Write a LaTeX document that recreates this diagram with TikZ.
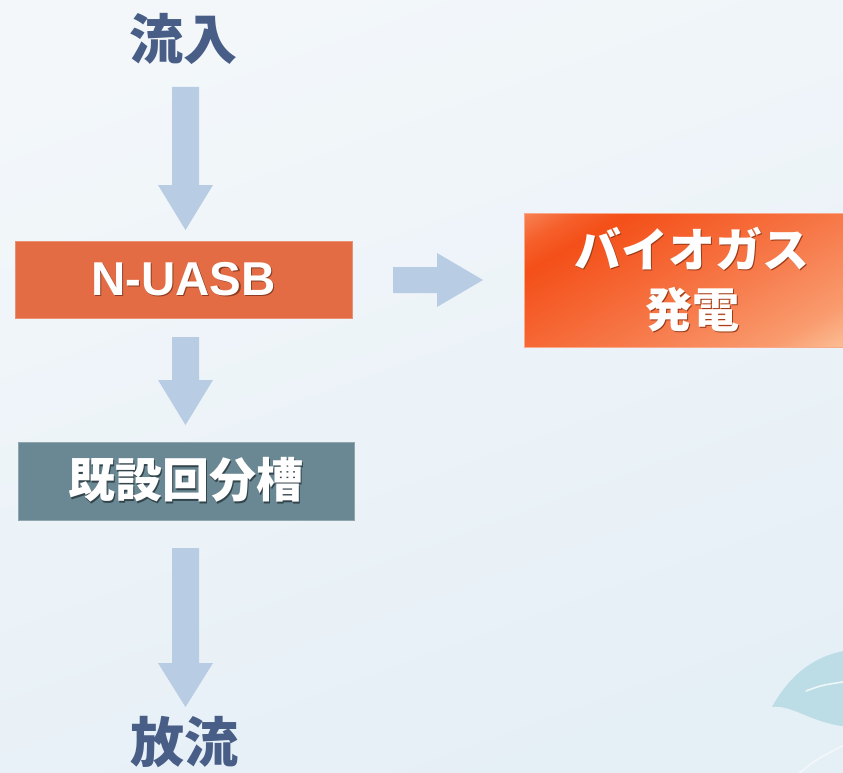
\documentclass[tikz,border=0pt]{standalone}
\usepackage{fontspec}
\setmainfont{Liberation Sans}
\newfontfamily\jp{Noto Sans CJK JP}
\usetikzlibrary{calc}

\definecolor{bgA}{HTML}{F3F7FA}
\definecolor{bgB}{HTML}{E5EFF6}
\definecolor{flow}{HTML}{B8CCE4}
\definecolor{labelblue}{HTML}{485E86}
\definecolor{uasb}{HTML}{E36C44}
\definecolor{uasbshadow}{HTML}{8E3C22}
\definecolor{tank}{HTML}{6A8893}
\definecolor{tankshadow}{HTML}{33454C}
\definecolor{gasEdge}{HTML}{F78458}
\definecolor{gasB}{HTML}{F55F2A}
\definecolor{gasA}{HTML}{F44F18}
\definecolor{gasC}{HTML}{F5612D}
\definecolor{gasMid}{HTML}{F77D4E}
\definecolor{gasD}{HTML}{F99B6E}
\definecolor{gasLight}{HTML}{FCC79E}
\definecolor{gasshadow}{HTML}{9A3A18}
\definecolor{leaf}{HTML}{BCDDE6}

% diagonal orange glow for the power-generation box
\pgfdeclarehorizontalshading{biogasglow}{100bp}{%
  color(0bp)=(gasEdge); color(26bp)=(gasEdge); color(31bp)=(gasB);
  color(35bp)=(gasA); color(43bp)=(gasC); color(55bp)=(gasMid);
  color(66bp)=(gasD); color(74bp)=(gasLight); color(100bp)=(gasLight)}

% white text with a small dark drop shadow
\newcommand\dropped[2]{\makebox[0pt][l]{\hspace*{1.4pt}\raisebox{-1.4pt}{\textcolor{#1}{#2}}}#2}

\tikzset{
  flowlabel/.style={text=labelblue, font=\jp\bfseries\fontsize{54}{60}\selectfont, inner sep=0pt},
  box/.style={inner sep=0pt, text=white, align=center},
  flowarrow/.style={fill=flow},
}

\begin{document}
\begin{tikzpicture}[x=1pt,y=-1pt]
  \useasboundingbox (0,0) rectangle (843,773);
  \clip (0,0) rectangle (843,773);
  \shade[top color=bgA, bottom color=bgB, shading angle=20] (-10,-10) rectangle (853,783);

  % leaf in the lower right corner
  \fill[leaf] (772,707) .. controls (788,678) and (812,655) .. (850,650)
    -- (850,727) .. controls (812,724) and (792,704) .. (772,707) -- cycle;
  \draw[white, opacity=0.75, line width=1.6pt, line cap=round]
    (806,691) .. controls (822,685) .. (850,681);
  \draw[white, opacity=0.6, line width=1.4pt] (796,776) .. controls (815,760) .. (850,742);

  % labels and process boxes
  \node[flowlabel] (inflow) at (183,39) {流入};
  \node[flowlabel] (outflow) at (184,742) {放流};

  \node[box, fill=uasb, draw=uasb!75!white, line width=0.8pt,
        minimum width=337pt, minimum height=77pt,
        font=\bfseries\fontsize{47.5}{56}\selectfont]
    (uasbnode) at (183.5,279.5) {\dropped{uasbshadow}{N-UASB}};

  \node[box, fill=tank, draw=tank!75!white, line width=0.8pt,
        minimum width=336pt, minimum height=78pt,
        font=\jp\bfseries\fontsize{47}{56}\selectfont]
    (tanknode) at (186,481) {\dropped{tankshadow}{既設回分槽}};

  % diagonal glow behind the power-generation box
  \begin{scope}
    \clip (524,213) rectangle (860,347);
    \begin{scope}[transform canvas={shift={(692,280)}, rotate=-60}]
      \shade[shading=biogasglow] (-150,-210) rectangle (150,210);
    \end{scope}
  \end{scope}
  \node[box, draw=gasEdge!70!white, line width=0.8pt,
        minimum width=336pt, minimum height=134pt,
        font=\jp\bfseries\fontsize{47}{60}\selectfont]
    (gasnode) at (692,280) {\dropped{gasshadow}{バイオガス}\\\dropped{gasshadow}{発電}};

  % block arrows between the stages
  \fill[flowarrow] (172,87) -- (199,87) -- (199,185) -- (213,185) -- (185.5,230)
    -- (158,185) -- (172,185) -- cycle;
  \fill[flowarrow] (172,337) -- (199,337) -- (199,380) -- (213,380) -- (185.5,425)
    -- (158,380) -- (172,380) -- cycle;
  \fill[flowarrow] (393,267) -- (437,267) -- (437,253) -- (483,280) -- (437,307)
    -- (437,293) -- (393,293) -- cycle;
  \fill[flowarrow] (172,548) -- (199,548) -- (199,663) -- (213,663) -- (185.5,707)
    -- (158,663) -- (172,663) -- cycle;
\end{tikzpicture}
\end{document}
